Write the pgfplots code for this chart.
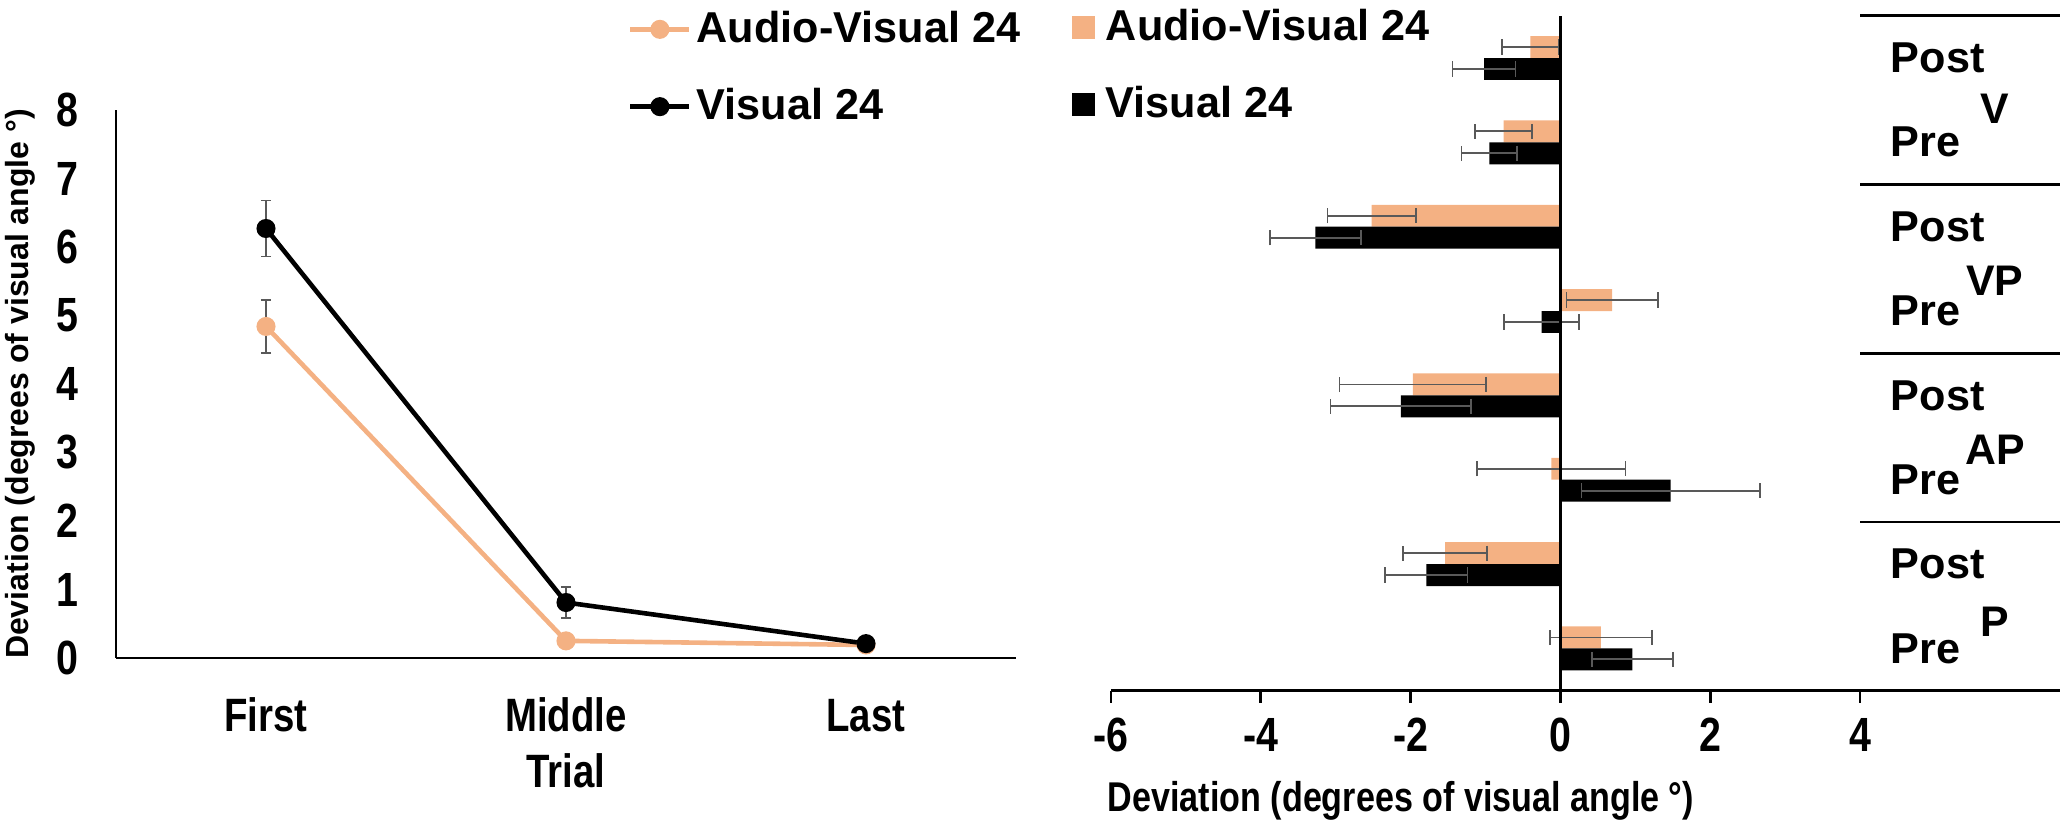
\documentclass[border=0pt]{standalone}
\usepackage{pgfplots}
\pgfplotsset{compat=1.18}
\usepackage{fontspec}
\setmainfont{Liberation Sans}
\newfontfamily\narrowfam[FakeStretch=0.82]{Liberation Sans}
\definecolor{avorange}{HTML}{F4B183}
\definecolor{errgray}{HTML}{595959}
\pgfplotsset{
  /pgfplots/xbar legend/.style={
    /pgfplots/legend image code/.code={\fill[##1,draw=none] (0pt,-2.9pt) rectangle (5.75pt,2.9pt);},
  },
}
\begin{document}
\begin{tikzpicture}
\useasboundingbox (0,0) rectangle (516.75pt,208.5pt);
% ---------------- left panel ----------------
\begin{axis}[
  at={(29pt,44pt)}, anchor=south west,
  scale only axis, width=225pt, height=137pt,
  xmin=0.5, xmax=3.5, ymin=0, ymax=8,
  xtick={1,2,3}, xticklabels={First,Middle,Last},
  ytick={0,1,2,3,4,5,6,7,8}, yticklabels={0,1,2,3,4,5,6,7,8},
  axis x line*=bottom, axis y line*=left,
  axis line style={line width=0.5pt,-},
  tick style={draw=none},
  xticklabel style={font=\fontsize{11.7}{14}\narrowfam\bfseries, anchor=base, inner sep=0pt, yshift=-18.5pt},
  yticklabel style={font=\fontsize{12}{14}\narrowfam\bfseries, anchor=east, inner sep=0pt, xshift=-9.25pt},
  xlabel={Trial},
  xlabel style={at={(axis description cs:0.5,-0.206)}, anchor=center, font=\fontsize{11.7}{14}\narrowfam\bfseries},
  ylabel={Deviation (degrees of visual angle °)},
  ylabel style={at={(axis description cs:-0.1067,0.5)}, anchor=center, font=\fontsize{8}{10}\bfseries},
  clip=false,
  legend cell align=left,
  legend style={at={(axis description cs:0.568,1.0766)}, anchor=west, draw=none, fill=none,
    font=\fontsize{10.8}{13}\bfseries, row sep=10pt, column sep=1.25pt, inner sep=0pt, nodes={inner sep=0pt}},
  legend image code/.code={\draw[mark repeat=2,mark phase=2,#1] plot coordinates {(0pt,0pt)(7.4pt,0pt)(14.8pt,0pt)};},
]
\addplot[avorange, line width=1.15pt, mark=*, mark size=1.8pt, mark options={fill=avorange, draw=avorange},
  error bars/.cd, y dir=both, y explicit, error mark=|,
  error bar style={draw=errgray, line width=0.4pt},
  error mark options={draw=errgray, mark size=1.3pt, line width=0.4pt}]
  coordinates {(1,4.84) +- (0,0.39) (2,0.25) +- (0,0.11) (3,0.19) +- (0,0.02)};
\addlegendentry{Audio-Visual 24}
\addplot[black, line width=1.15pt, mark=*, mark size=1.8pt, mark options={fill=black, draw=black},
  error bars/.cd, y dir=both, y explicit, error mark=|,
  error bar style={draw=errgray, line width=0.4pt},
  error mark options={draw=errgray, mark size=1.3pt, line width=0.4pt}]
  coordinates {(1,6.27) +- (0,0.41) (2,0.81) +- (0,0.23) (3,0.21) +- (0,0.03)};
\addlegendentry{Visual 24}
\end{axis}
% ---------------- right panel ----------------
\begin{axis}[
  at={(277.75pt,35.85pt)}, anchor=south west,
  scale only axis, width=187.25pt, height=168.7pt,
  xmin=-6, xmax=4, ymin=-0.5, ymax=7.5,
  xtick={-6,-4,-2,0,2,4}, xticklabels={-6,-4,-2,0,2,4},
  ytick={0,1,2,3,4,5,6,7}, yticklabels={Pre,Post,Pre,Post,Pre,Post,Pre,Post},
  axis x line*=bottom, axis y line*=right,
  x axis line style={line width=0.7pt,-},
  y axis line style={draw=none},
  xtick style={line width=0.7pt, black},
  ytick style={draw=none},
  tick align=outside, major tick length=3pt,
  xticklabel style={font=\fontsize{12}{14}\narrowfam\bfseries, anchor=base, inner sep=0pt, yshift=-12.2pt},
  yticklabel style={font=\fontsize{10.8}{12}\bfseries, anchor=west, inner sep=0pt, xshift=4.5pt},
  xlabel={Deviation (degrees of visual angle °)},
  xlabel style={at={(axis description cs:0.387,-0.1636)}, anchor=center, font=\fontsize{10.4}{12}\narrowfam\bfseries},
  clip=false,
  xbar, bar width=0.26,
  legend cell align=left,
  legend style={at={(axis description cs:-0.0534,0.9253)}, anchor=west, draw=none, fill=none,
    font=\fontsize{10.8}{13}\bfseries, row sep=10pt, column sep=2.75pt, inner sep=0pt, nodes={inner sep=0pt}},
]
\addplot[fill=avorange, draw=none, bar shift=0.13,
  error bars/.cd, x dir=both, x explicit, error mark=|,
  error bar style={draw=errgray, line width=0.45pt},
  error mark options={draw=errgray, mark size=1.9pt, line width=0.45pt}]
  coordinates {
  (-0.40,7) +- (0.38,0)
  (-0.76,6) +- (0.38,0)
  (-2.52,5) +- (0.59,0)
  (0.69,4) +- (0.61,0)
  (-1.97,3) +- (0.98,0)
  (-0.12,2) +- (0.99,0)
  (-1.54,1) +- (0.56,0)
  (0.54,0) +- (0.68,0)
  };
\addlegendentry{Audio-Visual 24}
\addplot[fill=black, draw=none, bar shift=-0.13,
  error bars/.cd, x dir=both, x explicit, error mark=|,
  error bar style={draw=errgray, line width=0.45pt},
  error mark options={draw=errgray, mark size=1.9pt, line width=0.45pt}]
  coordinates {
  (-1.02,7) +- (0.42,0)
  (-0.95,6) +- (0.37,0)
  (-3.27,5) +- (0.61,0)
  (-0.25,4) +- (0.50,0)
  (-2.13,3) +- (0.94,0)
  (1.47,2) +- (1.19,0)
  (-1.79,1) +- (0.55,0)
  (0.96,0) +- (0.54,0)
  };
\addlegendentry{Visual 24}
\draw[line width=0.85pt] (axis cs:0,-0.5) -- (axis cs:0,7.5);
\draw[line width=0.7pt] (axis cs:4,-0.5) -- (axis cs:6.67,-0.5);
\draw[line width=0.7pt] (axis cs:4,1.5) -- (axis cs:6.67,1.5);
\draw[line width=0.7pt] (axis cs:4,3.5) -- (axis cs:6.67,3.5);
\draw[line width=0.7pt] (axis cs:4,5.5) -- (axis cs:6.67,5.5);
\draw[line width=0.7pt] (axis cs:4,7.5) -- (axis cs:6.67,7.5);
\node[font=\fontsize{10.7}{12}\bfseries] at (axis cs:5.8,6.4) {V};
\node[font=\fontsize{10.7}{12}\bfseries] at (axis cs:5.8,4.36) {VP};
\node[font=\fontsize{10.7}{12}\bfseries] at (axis cs:5.8,2.36) {AP};
\node[font=\fontsize{10.7}{12}\bfseries] at (axis cs:5.8,0.32) {P};
\end{axis}
\end{tikzpicture}
\end{document}
